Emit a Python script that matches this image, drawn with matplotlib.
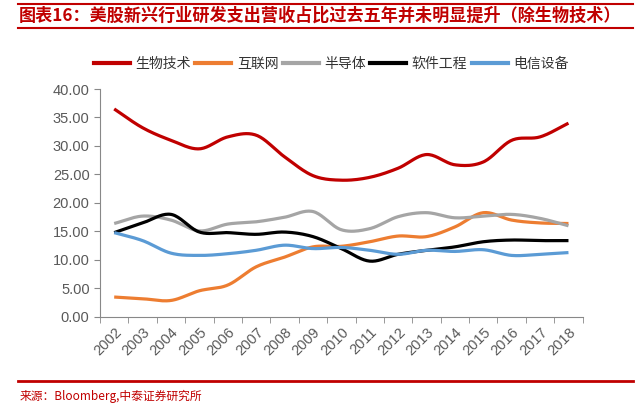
import numpy as np
import matplotlib
matplotlib.use("Agg")
import matplotlib.pyplot as plt
from matplotlib.lines import Line2D

plt.rcParams['font.family'] = ['Noto Sans CJK SC', 'DejaVu Sans']

years = [str(y) for y in range(2002, 2019)]
biotech = [36.5, 33.2, 31.0, 29.5, 31.6, 31.9, 28.1, 24.8, 24.0, 24.5, 26.1, 28.5, 26.7, 27.2, 31.0, 31.6, 34.0]
internet = [3.5, 3.2, 2.9, 4.6, 5.6, 8.8, 10.5, 12.3, 12.4, 13.2, 14.2, 14.1, 15.8, 18.3, 17.0, 16.5, 16.4]
semis = [16.4, 17.7, 17.0, 15.1, 16.3, 16.7, 17.5, 18.5, 15.3, 15.5, 17.6, 18.3, 17.4, 17.7, 18.0, 17.3, 16.0]
software = [14.8, 16.5, 18.0, 14.9, 14.8, 14.5, 14.9, 14.1, 12.0, 9.8, 11.0, 11.7, 12.3, 13.2, 13.5, 13.4, 13.4]
telecom = [14.8, 13.4, 11.2, 10.8, 11.1, 11.7, 12.6, 12.0, 12.2, 11.7, 11.0, 11.7, 11.5, 11.8, 10.8, 11.0, 11.3]

series = [
    ('生物技术', biotech, '#C00000'),
    ('互联网', internet, '#ED7D31'),
    ('半导体', semis, '#A5A5A5'),
    ('软件工程', software, '#000000'),
    ('电信设备', telecom, '#5B9BD5'),
]


def smooth(x, y, n=20):
    # catmull-rom curve through the points, like excel's smoothed line
    x = np.asarray(x, float)
    y = np.asarray(y, float)
    px = np.concatenate([[2 * x[0] - x[1]], x, [2 * x[-1] - x[-2]]])
    py = np.concatenate([[2 * y[0] - y[1]], y, [2 * y[-1] - y[-2]]])
    xs, ys = [], []
    t = np.linspace(0, 1, n, endpoint=False)
    for i in range(1, len(px) - 2):
        for p, out in ((px, xs), (py, ys)):
            p0, p1, p2, p3 = p[i - 1], p[i], p[i + 1], p[i + 2]
            out.extend(0.5 * (2 * p1 + (-p0 + p2) * t
                              + (2 * p0 - 5 * p1 + 4 * p2 - p3) * t ** 2
                              + (-p0 + 3 * p1 - 3 * p2 + p3) * t ** 3))
    xs.append(x[-1])
    ys.append(y[-1])
    return np.array(xs), np.array(ys)


fig = plt.figure(figsize=(6.41, 4.13), dpi=100)
ax = fig.add_axes([0.156, 0.2325, 0.753, 0.552])

x = np.arange(len(years))
handles = []
for name, vals, color in series:
    sx, sy = smooth(x, vals)
    ax.plot(sx, sy, color=color, lw=2.3, solid_capstyle='butt')
    handles.append(Line2D([], [], color=color, lw=3))

ax.set_xlim(-0.5, len(years) - 0.5)
ax.set_ylim(0, 40)
ax.set_yticks(np.arange(0, 41, 5))
ax.set_yticklabels([f'{v:.2f}' for v in np.arange(0, 41, 5)])
ax.set_xticks(x)
ax.set_xticklabels(years, rotation=45, ha='right', rotation_mode='anchor')
ax.set_xticks(np.arange(-0.5, len(years), 1), minor=True)
ax.tick_params(axis='x', which='major', length=0, pad=6)
ax.tick_params(axis='x', which='minor', length=4, color='#888888')
ax.tick_params(axis='y', length=4, color='#888888')
for lab in ax.get_xticklabels() + ax.get_yticklabels():
    lab.set_family(['Liberation Sans', 'DejaVu Sans'])
    lab.set_fontsize(10.5)
    lab.set_color('#595959')
for side in ('top', 'right'):
    ax.spines[side].set_visible(False)
for side in ('left', 'bottom'):
    ax.spines[side].set_color('#888888')

fig.legend(handles, [s[0] for s in series], loc='center', bbox_to_anchor=(0.517, 0.845),
           ncol=5, frameon=False, fontsize=10, handlelength=2.6, handletextpad=0.4,
           columnspacing=0.3, labelcolor='#333333')

red = '#C00000'
fig.add_artist(Line2D([0.028, 0.987], [0.99, 0.99], color=red, lw=1.5))
fig.add_artist(Line2D([0.028, 0.987], [0.932, 0.932], color=red, lw=1.5))
fig.text(0.03, 0.961, '图表16：美股新兴行业研发支出营收占比过去五年并未明显提升（除生物技术）',
         color=red, fontsize=12.3, fontweight='bold', style='italic', va='center')
fig.add_artist(Line2D([0.028, 0.987], [0.0775, 0.0775], color=red, lw=2))
fig.text(0.03, 0.039, '来源：Bloomberg,中泰证券研究所', color=red, fontsize=8.5, va='center')

fig.savefig('out.png', dpi=100)
